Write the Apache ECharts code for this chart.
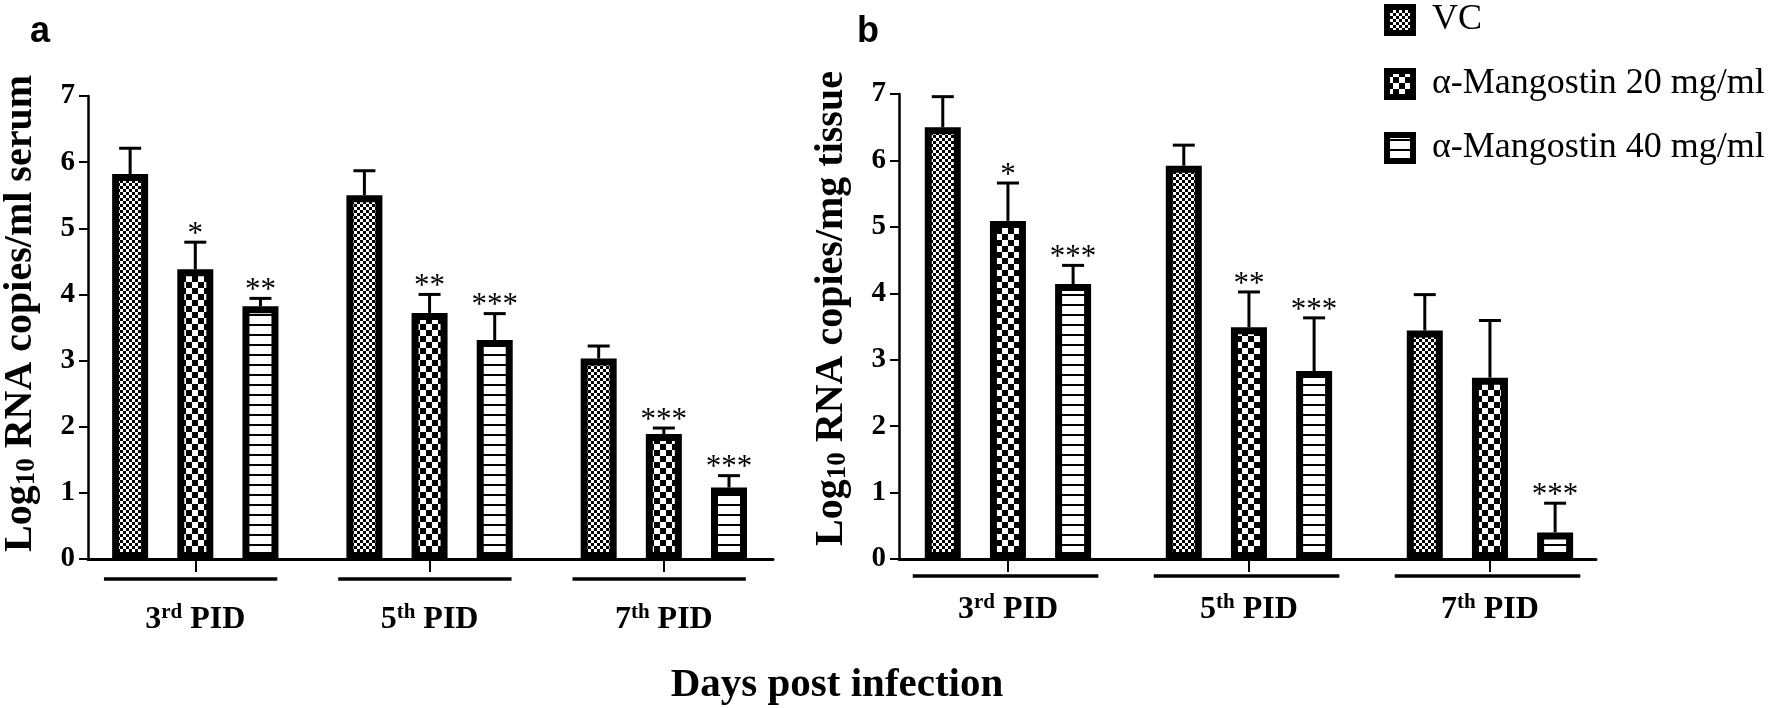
<!DOCTYPE html>
<html><head><meta charset="utf-8">
<script src="https://cdn.jsdelivr.net/npm/echarts@6/dist/echarts.min.js"></script>
<style>html,body{margin:0;padding:0;background:#fff}#c{width:1770px;height:708px}</style>
</head><body><div id="c"></div>
<script>
// ---------- data ----------
const dayPos = [1, 2, 3];
const dayNum = ['3', '5', '7'];
const daySup = ['rd', 'th', 'th'];
const groupNames = ['VC', 'α-Mangostin 20 mg/ml', 'α-Mangostin 40 mg/ml'];
const yTicks = [0, 1, 2, 3, 4, 5, 6, 7];

// panel a: serum
const serumVC = [5.82, 5.50, 3.03];
const serumVCErr = [0.39, 0.37, 0.19];
const serumVCStars = ['', '', ''];
const serumM20 = [4.38, 3.72, 1.89];
const serumM20Err = [0.41, 0.28, 0.09];
const serumM20Stars = ['*', '**', '***'];
const serumM40 = [3.82, 3.31, 1.08];
const serumM40Err = [0.12, 0.40, 0.18];
const serumM40Stars = ['**', '***', '***'];

// panel b: tissue
const tissueVC = [6.50, 5.92, 3.44];
const tissueVCErr = [0.46, 0.31, 0.54];
const tissueVCStars = ['', '', ''];
const tissueM20 = [5.09, 3.49, 2.73];
const tissueM20Err = [0.57, 0.53, 0.86];
const tissueM20Stars = ['*', '**', ''];
const tissueM40 = [4.14, 2.83, 0.40];
const tissueM40Err = [0.28, 0.80, 0.44];
const tissueM40Stars = ['***', '***', '***'];

// ---------- styling ----------
function makePattern(kind) {
  const c = document.createElement('canvas');
  const ctx = c.getContext('2d');
  if (kind === 0) {
    c.width = 6; c.height = 6;
    ctx.fillStyle = '#fff'; ctx.fillRect(0, 0, 6, 6);
    ctx.fillStyle = '#000'; ctx.fillRect(0, 0, 3, 3); ctx.fillRect(3, 3, 3, 3);
  } else if (kind === 1) {
    c.width = 12; c.height = 12;
    ctx.fillStyle = '#fff'; ctx.fillRect(0, 0, 12, 12);
    ctx.fillStyle = '#000'; ctx.fillRect(0, 0, 6, 6); ctx.fillRect(6, 6, 6, 6);
  } else {
    c.width = 10; c.height = 10;
    ctx.fillStyle = '#fff'; ctx.fillRect(0, 0, 10, 10);
    ctx.fillStyle = '#000'; ctx.fillRect(0, 4, 10, 2);
  }
  return { image: c, repeat: 'repeat' };
}
const patterns = [makePattern(0), makePattern(1), makePattern(2)];

const SERIF = 'Liberation Serif';
const BAR_W = 36, BAR_GAP = 0.81, STEP = BAR_W * (1 + BAR_GAP);

const panels = [
  {
    grid: { left: 77, top: 96, width: 696, height: 463 },
    xMin: 0.542, xMax: 3.466,
    means: [serumVC, serumM20, serumM40],
    errs: [serumVCErr, serumM20Err, serumM40Err],
    stars: [serumVCStars, serumM20Stars, serumM40Stars],
    yName: '{m|Log}{s|10}{m| RNA copies/ml serum}',
    lineDy: 20, lineOff: -0.02, lineHalf: 0.37, labelMargin: 43, namePad: 28
  },
  {
    grid: { left: 899, top: 94, width: 697, height: 465 },
    xMin: 0.548, xMax: 3.44,
    means: [tissueVC, tissueM20, tissueM40],
    errs: [tissueVCErr, tissueM20Err, tissueM40Err],
    stars: [tissueVCStars, tissueM20Stars, tissueM40Stars],
    yName: '{m|Log}{s|10}{m| RNA copies/mg tissue}',
    lineDy: 17, lineOff: -0.01, lineHalf: 0.385, labelMargin: 33, namePad: 36
  }
];

const grids = [], xAxes = [], yAxes = [], series = [];
panels.forEach((p, pi) => {
  grids.push(p.grid);
  xAxes.push({
    type: 'value', gridIndex: pi, min: p.xMin, max: p.xMax,
    splitLine: { show: false },
    axisLine: { show: true, onZero: false, lineStyle: { color: '#000', width: 3 } },
    axisTick: { show: true, customValues: dayPos, length: 13, lineStyle: { color: '#000', width: 2 } },
    axisLabel: {
      customValues: dayPos, margin: p.labelMargin, color: '#000',
      formatter: v => { const i = Math.round(v) - 1; return `{n|${dayNum[i]}}{s|${daySup[i]}}{n| PID}`; },
      rich: {
        n: { fontFamily: SERIF, fontWeight: 'bold', fontSize: 32, color: '#000', lineHeight: 34, verticalAlign: 'bottom' },
        s: { fontFamily: SERIF, fontWeight: 'bold', fontSize: 21, color: '#000', verticalAlign: 'top', lineHeight: 20 }
      }
    }
  });
  yAxes.push({
    type: 'value', gridIndex: pi, min: yTicks[0], max: yTicks[yTicks.length - 1], interval: 1,
    splitLine: { show: false },
    axisLine: { show: true, lineStyle: { color: '#000', width: 2.5 } },
    axisTick: { show: true, length: 9, lineStyle: { color: '#000', width: 2 } },
    axisLabel: { fontFamily: SERIF, fontWeight: 'bold', fontSize: 29, color: '#000', margin: 13 },
    name: p.yName, nameLocation: 'middle', nameGap: 47,
    nameTextStyle: {
      padding: [0, 0, 0, p.namePad],
      rich: {
        m: { fontFamily: SERIF, fontWeight: 'bold', fontSize: 40, color: '#000', lineHeight: 42, verticalAlign: 'bottom' },
        s: { fontFamily: SERIF, fontWeight: 'bold', fontSize: 27, color: '#000', lineHeight: 23, verticalAlign: 'bottom' }
      }
    }
  });
  // bars
  groupNames.forEach((name, g) => {
    series.push({
      type: 'bar', name, xAxisIndex: pi, yAxisIndex: pi,
      barWidth: BAR_W, barGap: (BAR_GAP * 100) + '%',
      data: dayPos.map((x, i) => [x, p.means[g][i]]),
      itemStyle: { color: patterns[g], borderColor: '#000', borderWidth: 7 },
      emphasis: { disabled: true }, z: 2
    });
  });
  // error bars + significance stars
  const errRows = [], starRows = [];
  groupNames.forEach((name, g) => {
    dayPos.forEach((x, i) => { errRows.push([x, p.means[g][i], p.errs[g][i], g]); starRows.push(p.stars[g][i]); });
  });
  series.push({
    type: 'custom', xAxisIndex: pi, yAxisIndex: pi, z: 3, silent: true,
    data: errRows,
    renderItem: (params, api) => {
      const x = api.value(0), m = api.value(1), e = api.value(2), g = api.value(3);
      const base = api.coord([x, m]), top = api.coord([x, m + e]);
      const cx = base[0] + (g - 1) * STEP;
      const children = [
        { type: 'line', shape: { x1: cx, y1: base[1], x2: cx, y2: top[1] }, style: { stroke: '#000', lineWidth: 3 } },
        { type: 'line', shape: { x1: cx - 11, y1: top[1], x2: cx + 11, y2: top[1] }, style: { stroke: '#000', lineWidth: 3 } }
      ];
      const st = starRows[params.dataIndex];
      if (st) children.push({ type: 'text', style: { text: st, x: cx, y: top[1] + 8, align: 'center', verticalAlign: 'bottom', fontFamily: SERIF, fontSize: 31, fill: '#000' } });
      return { type: 'group', children };
    }
  });
  // group underline below each day
  series.push({
    type: 'custom', xAxisIndex: pi, yAxisIndex: pi, z: 3, silent: true, clip: false,
    data: dayPos.map(x => [x]),
    renderItem: (params, api) => {
      const x = api.value(0);
      const l = api.coord([x + p.lineOff - p.lineHalf, 0]), r = api.coord([x + p.lineOff + p.lineHalf, 0]);
      return { type: 'line', shape: { x1: l[0], y1: l[1] + p.lineDy, x2: r[0], y2: r[1] + p.lineDy }, style: { stroke: '#000', lineWidth: 3.5 } };
    }
  });
});

const chart = echarts.init(document.getElementById('c'), null, { renderer: 'canvas' });
chart.setOption({
  backgroundColor: '#fff',
  animation: false,
  title: [
    { text: 'a', left: 25, top: 9, textStyle: { fontFamily: 'Liberation Sans', fontWeight: 'bold', fontSize: 36, color: '#000' } },
    { text: 'b', left: 852, top: 9, textStyle: { fontFamily: 'Liberation Sans', fontWeight: 'bold', fontSize: 36, color: '#000' } },
    { text: 'Days post infection', left: 832, top: 660, textAlign: 'center', textStyle: { fontFamily: SERIF, fontWeight: 'bold', fontSize: 41, color: '#000' } }
  ],
  legend: {
    data: groupNames, orient: 'vertical', left: 1379, top: -3, icon: 'rect',
    itemWidth: 26, itemHeight: 26, itemGap: 28, selectedMode: false,
    itemStyle: { borderWidth: 6, borderColor: '#000' },
    textStyle: { fontFamily: SERIF, fontSize: 36, color: '#000', padding: [0, 0, 0, 14] }
  },
  grid: grids, xAxis: xAxes, yAxis: yAxes, series
});
</script></body></html>
